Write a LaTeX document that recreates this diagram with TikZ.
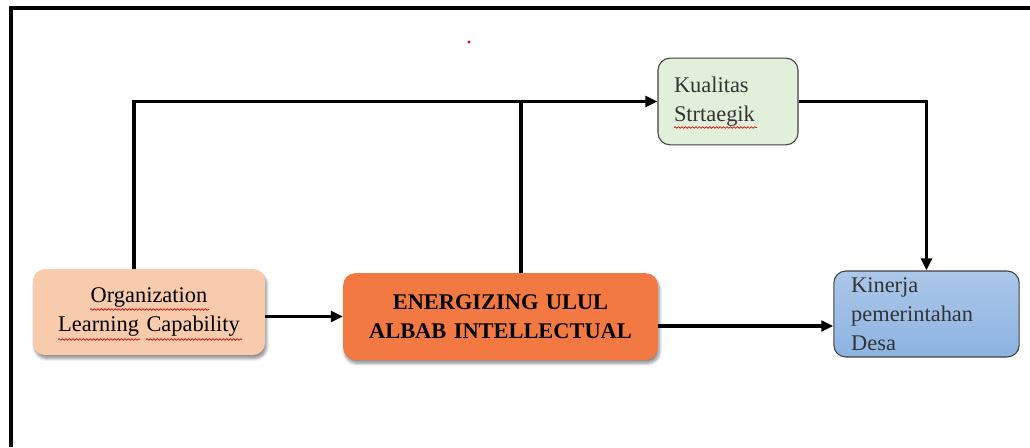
\documentclass[tikz,border=0pt]{standalone}
\usepackage{fontspec}
\setmainfont{Liberation Serif}
\usetikzlibrary{arrows.meta,calc,shadows.blur,decorations.pathmorphing}

\definecolor{olcfill}{HTML}{F8CBAD}
\definecolor{enfill}{RGB}{243,121,66}
\definecolor{ksfill}{HTML}{E2EFDA}
\definecolor{kptop}{HTML}{ABC7E9}
\definecolor{kpbot}{HTML}{8DB3E2}
\definecolor{edgegray}{HTML}{404040}
\definecolor{txtgray}{HTML}{333333}

\tikzset{
  box/.style={rectangle, rounded corners=9pt, inner sep=0pt,
    font=\fontsize{16.8}{21.75}\selectfont},
  softshadow/.style={blur shadow={shadow xshift=1.2pt, shadow yshift=-2.6pt,
    shadow blur steps=6, shadow opacity=45, shadow blur radius=2.2pt}},
  link/.style={line width=2.3pt},
  arr/.style={link, -{Triangle[length=9pt,width=8pt]}},
  spell/.style={red!85!black, line width=0.5pt,
    decorate, decoration={snake, amplitude=0.6pt, segment length=2.6pt}},
}

\begin{document}
\begin{tikzpicture}[x=0.75pt, y=-0.75pt]
\useasboundingbox (0,0) rectangle (1030,447);

% outer frame (left and top edges)
\draw[line width=3pt] (10.5,447) -- (10.5,8) -- (1030,8);

% stray red dot
\fill[red!90!black] (469,42) circle (1.2pt);

% boxes
\node[box, softshadow, fill=olcfill, minimum width=174pt, minimum height=64.5pt,
      text width=170pt, align=center] (OLC) at (149,312)
      {Organization\\Learning Capability};

\node[box, softshadow, fill=enfill, minimum width=236pt, minimum height=65pt,
      text width=230pt, align=center, font=\fontsize{16.8}{21.75}\selectfont\bfseries]
      (EN) at (500.5,316.5) {ENERGIZING ULUL\\ALBAB INTELLECTUAL};

\node[box, draw=edgegray, line width=0.8pt, fill=ksfill, text=txtgray,
      minimum width=105pt, minimum height=65pt, text width=81pt, align=left]
      (KS) at (728,101.5) {Kualitas\\[-0.5pt]Strtaegik};

\node[box, draw=edgegray, line width=0.8pt, top color=kptop, bottom color=kpbot,
      text=txtgray, minimum width=139pt, minimum height=64.5pt, text width=113pt,
      align=left] (KP) at (926.5,314) {Kinerja\\pemerintahan\\Desa};

% spell-check marks under words
\draw[spell] (90,309.5) -- (209,309.5);
\draw[spell] (58,339.5) -- (140,339.5);
\draw[spell] (146,339.5) -- (242,339.5);
\draw[spell] (674,127.5) -- (757,127.5);

% junction points
\coordinate (olcup) at ($(OLC.north)+(-15,0)$);
\coordinate (enup) at ($(EN.north)+(20.5,0)$);
\coordinate (enout) at ($(EN.east)+(0,9.5)$);

% connectors
\draw[arr] (olcup) |- (KS.west);
\draw[link] (enup) -- ([yshift=-1.15pt]enup |- KS.west);
\draw[arr] (OLC.east |- EN.west) -- (EN.west);
\draw[arr] (enout) -- (enout -| KP.west);
\draw[arr] (KS.east) -| (KP.north);
\end{tikzpicture}
\end{document}
